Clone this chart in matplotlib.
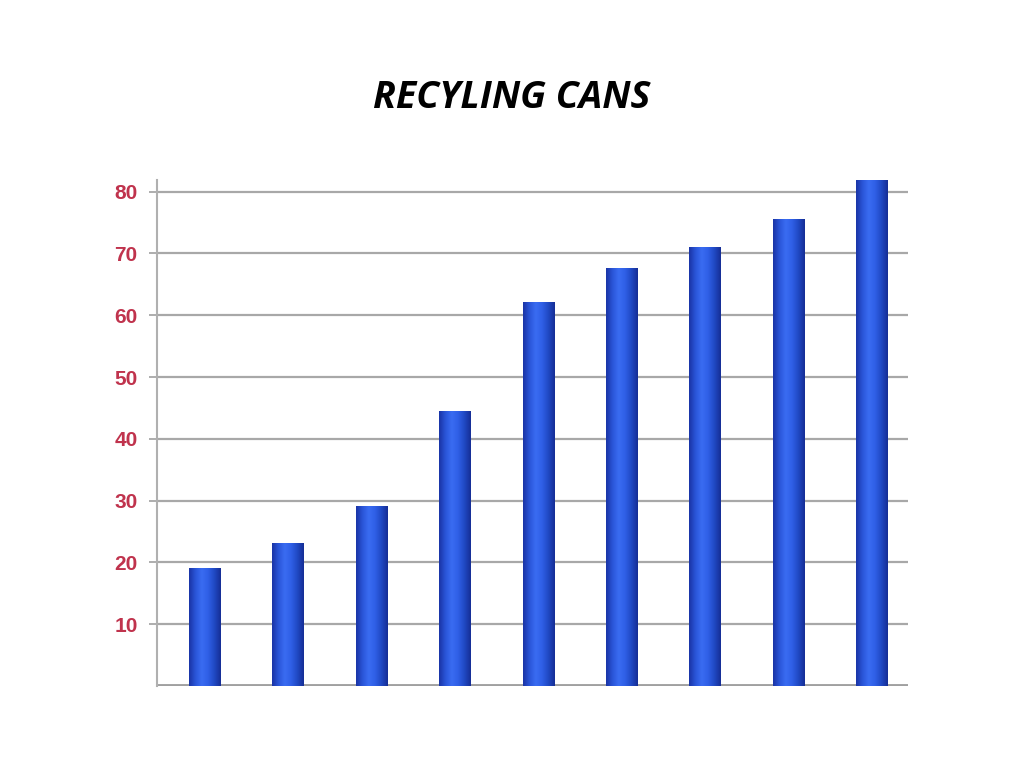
import matplotlib
matplotlib.use("Agg")
import matplotlib.pyplot as plt
import numpy as np
from matplotlib.colors import LinearSegmentedColormap

categories = ["1", "2", "3", "4", "5", "6", "7", "8", "9"]
values = [19, 23, 29, 44.5, 62, 67.5, 71, 75.5, 85]
yticks = [10, 20, 30, 40, 50, 60, 70, 80]
title = "RECYLING CANS"

fig = plt.figure(figsize=(10.24, 7.68), dpi=100)
ax = fig.add_axes([0.1533, 0.1068, 0.7334, 0.6589])

x = np.arange(len(categories))
ytop = 81.9
ax.set_xlim(-0.575, len(categories) - 0.57)
ax.set_ylim(0, ytop)

for y in yticks:
    ax.axhline(y, color="#a8a8a8", lw=1.6, zorder=1)
ax.axhline(0, color="#a0a0a0", lw=3.5, zorder=1)

cmap = LinearSegmentedColormap.from_list(
    "cyl", ["#1a34a6", "#2a55d8", "#3a6cf2", "#2f5fe6", "#2049c4", "#162e96"])
grad = np.linspace(0, 1, 64).reshape(1, -1)

bars = ax.bar(x, values, width=0.38, color="#2a55d8", zorder=2)
for b in bars:
    x0, w, h = b.get_x(), b.get_width(), b.get_height()
    im = ax.imshow(grad, extent=[x0, x0 + w, 0, min(h, ytop)], aspect="auto",
                   cmap=cmap, zorder=3, interpolation="bicubic")
ax.set_ylim(0, ytop)
ax.set_xlim(-0.575, len(categories) - 0.57)

ax.set_xticks([])
ax.set_yticks(yticks)
ax.set_yticklabels([str(v) for v in yticks])
ax.tick_params(axis="y", length=6, width=1.2, color="#a0a0a0", pad=8,
               labelsize=15, labelcolor="#c0334d")
for lbl in ax.get_yticklabels():
    lbl.set_fontweight("bold")
    lbl.set_family("Liberation Sans")

for s in ["top", "right", "bottom"]:
    ax.spines[s].set_visible(False)
ax.spines["left"].set_color("#b0b0b0")
ax.spines["left"].set_linewidth(1.5)

fig.text(0.5, 0.872, title, ha="center", va="center", fontsize=27,
         fontweight="bold", fontstyle="italic", family="Open Sans")

fig.savefig("out.png", dpi=100)
